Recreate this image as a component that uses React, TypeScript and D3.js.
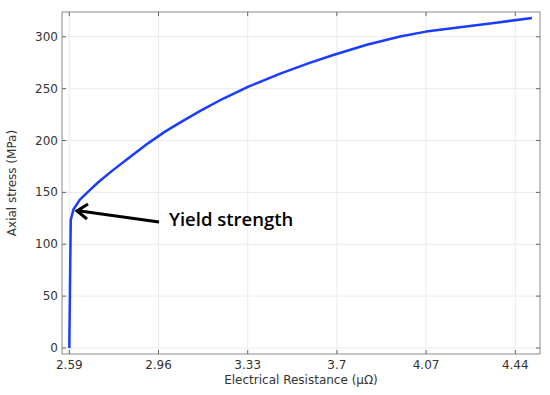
import React from "react";
import * as d3 from "d3";

const resistance = [2.59, 2.596, 2.607, 2.634, 2.676, 2.71, 2.766, 2.835, 2.918, 2.987, 3.049, 3.133, 3.229, 3.333, 3.465, 3.581, 3.685, 3.824, 3.962, 4.07, 4.219, 4.36, 4.509];
const stress = [0, 123.4, 133.5, 143, 152.5, 159.8, 170.5, 183, 197.5, 208.6, 217.3, 228.5, 240.5, 252, 264.5, 274.3, 282.5, 292.3, 300.2, 305, 309.4, 313.6, 318.1];
const xTicks = [2.59, 2.96, 3.33, 3.7, 4.07, 4.44];
const yTicks = [0, 50, 100, 150, 200, 250, 300];

const W = 550, H = 395;
const L = 62, R = 540, T = 12, B = 354;

export default function App() {
  const x = d3.scaleLinear().domain([2.5597, 4.5425]).range([L, R]);
  const y = d3.scaleLinear().domain([-5.8, 323.9]).range([B, T]);
  const pts = resistance.map((r, i) => [r, stress[i]] as [number, number]);
  const line = d3.line<[number, number]>().x(d => x(d[0])).y(d => y(d[1]));
  const font = "'DejaVu Sans', sans-serif";
  return (
    <svg width={W} height={H} style={{ position: "absolute", left: 0, top: 0, background: "#fff" }}>
      <rect x={0} y={0} width={W} height={H} fill="#fff" />
      {xTicks.map(t => (
        <line key={"gx" + t} x1={x(t)} x2={x(t)} y1={T} y2={B} stroke="#ebebeb" strokeWidth={1} />
      ))}
      {yTicks.map(t => (
        <line key={"gy" + t} x1={L} x2={R} y1={y(t)} y2={y(t)} stroke="#ebebeb" strokeWidth={1} />
      ))}
      <rect x={L} y={T} width={R - L} height={B - T} fill="none" stroke="#8a8a8a" strokeWidth={1} />
      {xTicks.map(t => (
        <g key={"tx" + t}>
          <line x1={x(t)} x2={x(t)} y1={B} y2={B - 4} stroke="#666" />
          <line x1={x(t)} x2={x(t)} y1={T} y2={T + 4} stroke="#666" />
          <text x={x(t)} y={B + 15} textAnchor="middle" fontFamily={font} fontSize={12} fill="#333">{String(t)}</text>
        </g>
      ))}
      {yTicks.map(t => (
        <g key={"ty" + t}>
          <line x1={L} x2={L + 4} y1={y(t)} y2={y(t)} stroke="#666" />
          <line x1={R} x2={R - 4} y1={y(t)} y2={y(t)} stroke="#666" />
          <text x={L - 4} y={y(t) + 4} textAnchor="end" fontFamily={font} fontSize={12} fill="#333">{String(t)}</text>
        </g>
      ))}
      <path d={line(pts) || ""} fill="none" stroke="#1a3cff" strokeWidth={2.5} strokeLinejoin="round" />
      <text x={(L + R) / 2} y={384} textAnchor="middle" fontFamily={font} fontSize={12} fill="#333">Electrical Resistance (μΩ)</text>
      <text transform={`translate(16,${(T + B) / 2}) rotate(-90)`} textAnchor="middle" fontFamily={font} fontSize={12} fill="#333">Axial stress (MPa)</text>
      <line x1={159} y1={222} x2={80} y2={211} stroke="#000" strokeWidth={3} />
      <polyline points="88,204 77,211 87,219" fill="none" stroke="#000" strokeWidth={3} strokeLinejoin="miter" />
      <text x={169} y={226} fontFamily="'Open Sans', sans-serif" fontWeight={600} fontSize={18.5} fill="#000">Yield strength</text>
    </svg>
  );
}
